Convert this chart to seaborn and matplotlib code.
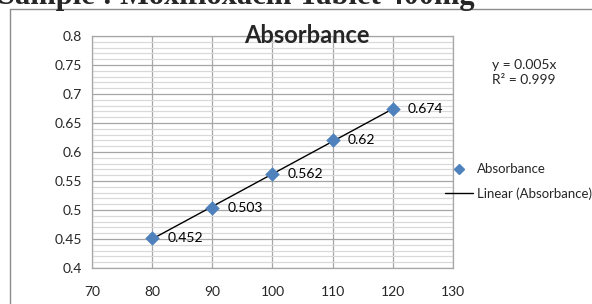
import numpy as np
import pandas as pd
import seaborn as sns
import matplotlib.pyplot as plt
from matplotlib.lines import Line2D
from matplotlib.ticker import MultipleLocator

###############################################################################
# Data
###############################################################################
conc = [80, 90, 100, 110, 120]
absorbance = [0.452, 0.503, 0.562, 0.62, 0.674]
labels = ['0.452', '0.503', '0.562', '0.62', '0.674']
eqText = 'y = 0.005x\nR² = 0.999'

df = pd.DataFrame({'conc': conc, 'Absorbance': absorbance})

###############################################################################
# Figure
###############################################################################
sns.set_style('white')
plt.rcParams['font.family'] = ['Lato', 'DejaVu Sans']

W, H = 592, 304
fig = plt.figure(figsize=(W / 100, H / 100), dpi=100)
ax = fig.add_axes([92 / W, 1 - 268 / H, (453 - 92) / W, (268 - 36) / H])

# trendline + points
sns.regplot(
    data=df, x='conc', y='Absorbance', ci=None, truncate=True,
    scatter=False, ax=ax, line_kws=dict(color='black', lw=1, zorder=3)
)
sns.scatterplot(
    data=df, x='conc', y='Absorbance', ax=ax, marker='D', s=55,
    color='#4F81BD', edgecolor='#4F81BD', linewidth=0, zorder=4
)
for (xv, yv, lb) in zip(conc, absorbance, labels):
    ax.annotate(lb, (xv, yv), xytext=(10.8, 0), textcoords='offset points',
                va='center', ha='left', fontsize=10, color='black')

ax.set_xlim(70, 130)
ax.set_ylim(0.4, 0.8)
ax.xaxis.set_major_locator(MultipleLocator(10))
ax.yaxis.set_minor_locator(MultipleLocator(0.01))
ax.set_yticks(np.arange(0.4, 0.81, 0.05))
ax.set_yticklabels(['0.4', '0.45', '0.5', '0.55', '0.6', '0.65', '0.7', '0.75', '0.8'])
ax.grid(which='major', color='#A6A6A6', lw=0.9)
ax.grid(which='minor', axis='y', color='#D9D9D9', lw=0.9)
ax.set_axisbelow(True)
for s in ax.spines.values():
    s.set_color('#A6A6A6')
    s.set_linewidth(0.9)
ax.tick_params(which='major', direction='out', length=4, color='#888888',
               labelsize=10, pad=3)
ax.tick_params(axis='x', pad=9)
ax.tick_params(which='minor', length=0)
ax.set_xlabel('')
ax.set_ylabel('')

# chart title sits on the top gridline
fig.text(307 / W, 1 - 43 / H, 'Absorbance', fontsize=17, fontweight='bold',
         ha='center', va='baseline')

# equation of trendline
fig.text(492 / W, 1 - 73 / H, eqText, fontsize=10, va='center', ha='left',
         linespacing=1.3)

# legend
handles = [
    Line2D([], [], marker='D', color='#4F81BD', ls='none', markersize=5.5),
    Line2D([], [], color='black', lw=1),
]
fig.legend(handles, ['Absorbance', 'Linear (Absorbance)'],
           loc='center left', bbox_to_anchor=(445 / W, 1 - 181.5 / H),
           frameon=False, fontsize=9.5, handlelength=2.1, handletextpad=0.3,
           labelspacing=0.9, borderaxespad=0, borderpad=0)

# chart area border and cropped page heading
fig.add_artist(Line2D([10 / W, 10 / W], [0, 1 - 9 / H], color='#8C8C8C', lw=1))
fig.add_artist(Line2D([10 / W, 1], [1 - 9 / H, 1 - 9 / H], color='#8C8C8C', lw=1))
fig.text(-2 / W, 1 - 4 / H, 'Sample : Moxifloxacin Tablet 400mg',
         family='Liberation Serif', fontweight='bold', fontsize=22,
         va='baseline', ha='left')

fig.savefig('out.png', dpi=100)
